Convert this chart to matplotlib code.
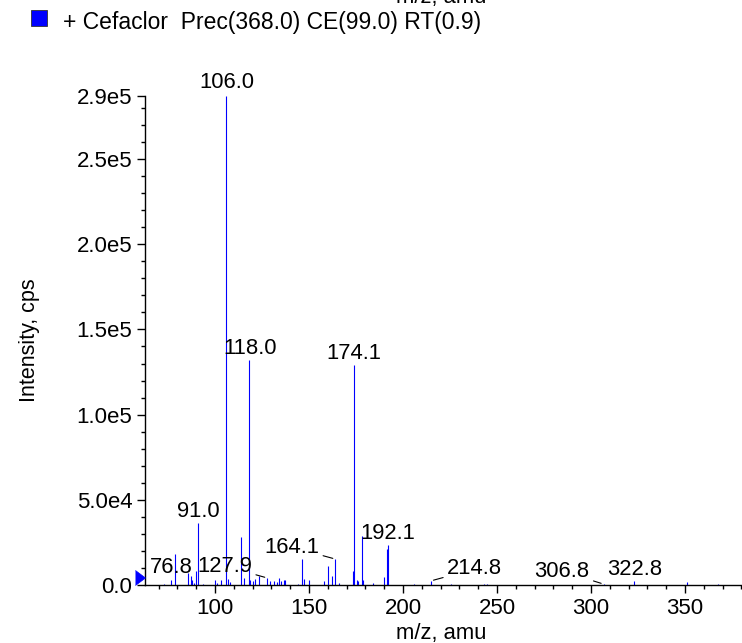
import numpy as np
import matplotlib
matplotlib.use("Agg")
import matplotlib.pyplot as plt
from matplotlib.ticker import FixedLocator, MultipleLocator

plt.rcParams['font.family'] = ['Liberation Sans', 'DejaVu Sans']

# spectrum: m/z and intensity (cps)
mz = [73.0, 76.8, 79.0, 85.8, 87.1, 87.8, 88.9, 89.9, 91.0, 93.5,
      100.0, 101.0, 103.0, 106.0, 107.1, 108.0, 114.1, 115.4, 118.0, 118.6,
      120.0, 121.3, 123.6, 127.9, 129.2, 131.6, 133.0, 134.1, 135.2, 136.7,
      137.3, 144.2, 146.3, 147.2, 150.0, 157.8, 160.1, 162.3, 164.1, 166.0,
      173.3, 174.1, 175.3, 176.0, 178.1, 179.0, 184.0, 190.0, 191.4, 192.1,
      206.0, 214.8, 225.7, 243.0, 244.7, 306.8, 322.8, 350.8, 367.8]
intensity = [600, 2900, 18000, 7200, 5200, 2900, 1200, 8200, 36200, 600,
             2900, 1200, 2900, 287000, 3300, 1800, 28200, 4100, 131800, 2900,
             2300, 3300, 5200, 4100, 2300, 2300, 1700, 4100, 2300, 2900,
             2900, 700, 15000, 3500, 2900, 2300, 11000, 5200, 15200, 1000,
             8300, 129400, 2900, 2300, 28500, 2900, 1000, 4700, 21000, 23300,
             600, 2400, 800, 700, 700, 500, 2400, 1700, 600]

label_mz = [76.8, 91.0, 106.0, 118.0, 127.9, 164.1, 174.1, 192.1, 214.8, 306.8, 322.8]
# label offsets in pixels (text centre relative to peak top)
label_dx = [0, 0, 1, 1, -43, -44, 0, 0, 44, -42, 1]
label_dy = [13, 12, 13, 12, 12, 12, 11, 12, 12, 13, 11]

xticks = [100, 150, 200, 250, 300, 350]
yticks = [0, 5e4, 1e5, 1.5e5, 2e5, 2.5e5, 2.87e5]
ytick_labels = ['0.0', '5.0e4', '1.0e5', '1.5e5', '2.0e5', '2.5e5', '2.9e5']

W, H = 742, 643
fig = plt.figure(figsize=(W / 100, H / 100), dpi=100)
ax = fig.add_axes([145 / W, 1 - 585 / H, (W - 145) / W, (585 - 96) / H])

ax.vlines(mz, 0, intensity, color='#0000ff', lw=0.8)

ax.set_xlim(62.8, 380.3)
ax.set_ylim(0, max(intensity))

for s in ['top', 'right']:
    ax.spines[s].set_visible(False)
ax.spines['left'].set_linewidth(1.0)
ax.spines['bottom'].set_linewidth(1.0)

ax.xaxis.set_major_locator(FixedLocator(xticks))
ax.xaxis.set_minor_locator(MultipleLocator(10))
ax.yaxis.set_major_locator(FixedLocator(yticks))
ax.set_yticklabels(ytick_labels)
ax.yaxis.set_minor_locator(MultipleLocator(1e4))
ax.tick_params(which='major', length=6, width=1, direction='out', labelsize=16, pad=3)
ax.tick_params(which='minor', length=3, width=1, direction='out')

fs = 15.8
peak_int = dict(zip(mz, intensity))
for m, dx, dy in zip(label_mz, label_dx, label_dy):
    y = peak_int[m]
    if abs(dx) < 5:
        ax.annotate(f'{m:.1f}', xy=(m, y), xytext=(dx, dy), textcoords='offset pixels',
                    ha='center', va='center', fontsize=fs)
    else:
        ax.annotate(f'{m:.1f}', xy=(m, y), xytext=(dx, dy), textcoords='offset pixels',
                    ha='center', va='center', fontsize=fs,
                    arrowprops=dict(arrowstyle='-', color='black', lw=0.8,
                                    shrinkA=1, shrinkB=2))

# blue marker on the y axis at zero
tri = [(-0.667, 0), (0, 0.5), (-0.667, 1)]
ax.plot([62.8], [0], marker=tri, ms=21.6, color='#0000ff', mec='#0000ff', mew=0.5,
        clip_on=False, zorder=5)

fig.text(29 / W, 1 - 340 / H, 'Intensity, cps', rotation=90, ha='center', va='center', fontsize=15.5)
fig.text(441 / W, 1 - 633 / H, 'm/z, amu', ha='center', va='center', fontsize=15.8)
# clipped duplicate axis title at the very top
fig.text(441 / W, 1 - 3 / H, 'm/z, amu', ha='center', va='baseline', fontsize=15.8)

# legend
fig.patches.append(plt.Rectangle((31 / W, 1 - 26 / H), 16 / W, 16 / H, transform=fig.transFigure,
                                 facecolor='#0000ff', edgecolor='#333333', lw=0.6))
fig.text(63 / W, 1 - 22 / H, '+ Cefaclor  Prec(368.0) CE(99.0) RT(0.9)', ha='left', va='center',
         fontsize=16.5)

fig.savefig('out.png', dpi=100)
